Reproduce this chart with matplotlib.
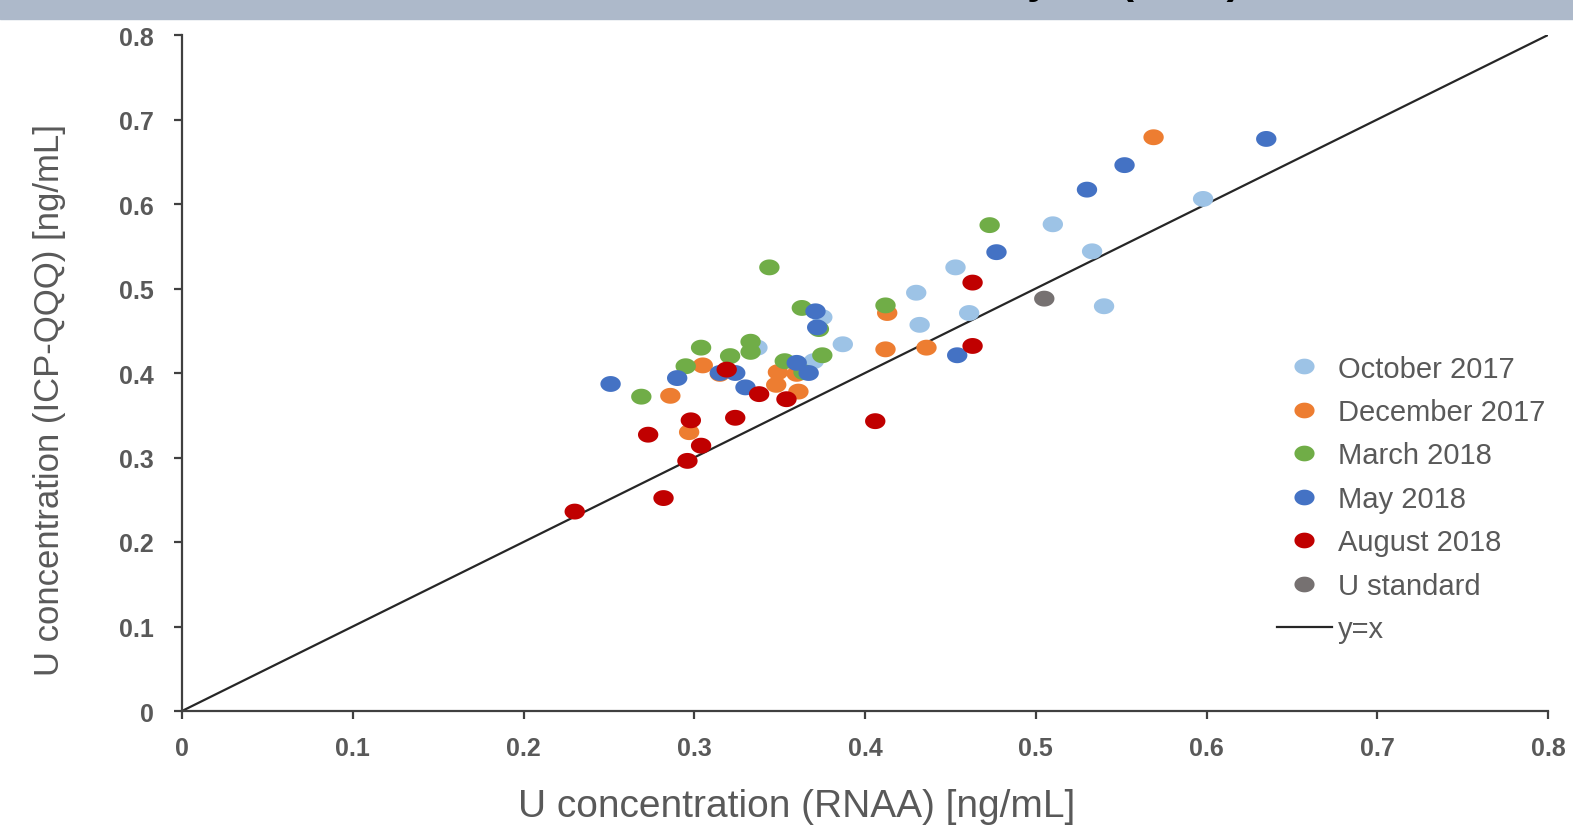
import numpy as np
import matplotlib
matplotlib.use("Agg")
import matplotlib.pyplot as plt
from matplotlib.path import Path
from matplotlib.lines import Line2D

# ── data (RNAA x, ICP-QQQ y) ──────────────────────────────────────────────────
oct17_x = [0.598, 0.510, 0.533, 0.540, 0.453, 0.430, 0.432, 0.461, 0.387, 0.375, 0.370, 0.337]
oct17_y = [0.606, 0.576, 0.544, 0.479, 0.525, 0.495, 0.457, 0.471, 0.434, 0.466, 0.414, 0.430]

dec17_x = [0.569, 0.413, 0.412, 0.436, 0.305, 0.286, 0.297, 0.315, 0.349, 0.348, 0.361, 0.360]
dec17_y = [0.679, 0.471, 0.428, 0.430, 0.409, 0.373, 0.330, 0.399, 0.401, 0.386, 0.378, 0.399]

mar18_x = [0.344, 0.473, 0.412, 0.363, 0.373, 0.375, 0.333, 0.333, 0.304, 0.321, 0.295, 0.269, 0.353, 0.364]
mar18_y = [0.525, 0.575, 0.480, 0.477, 0.452, 0.421, 0.437, 0.425, 0.430, 0.420, 0.408, 0.372, 0.414, 0.401]

may18_x = [0.635, 0.552, 0.530, 0.477, 0.454, 0.371, 0.372, 0.360, 0.367, 0.251, 0.290, 0.315, 0.324, 0.330]
may18_y = [0.677, 0.646, 0.617, 0.543, 0.421, 0.473, 0.454, 0.412, 0.400, 0.387, 0.394, 0.400, 0.400, 0.383]

aug18_x = [0.463, 0.463, 0.406, 0.319, 0.338, 0.354, 0.324, 0.298, 0.273, 0.304, 0.296, 0.282, 0.230]
aug18_y = [0.507, 0.432, 0.343, 0.404, 0.375, 0.369, 0.347, 0.344, 0.327, 0.314, 0.296, 0.252, 0.236]

std_x = [0.505]
std_y = [0.488]

SERIES = [
    ("October 2017",  oct17_x, oct17_y, "#9DC3E6"),
    ("December 2017", dec17_x, dec17_y, "#ED7D31"),
    ("March 2018",    mar18_x, mar18_y, "#70AD47"),
    ("May 2018",      may18_x, may18_y, "#4472C4"),
    ("August 2018",   aug18_x, aug18_y, "#C00000"),
    ("U standard",    std_x,   std_y,   "#767171"),
]
TICKS = [0, 0.1, 0.2, 0.3, 0.4, 0.5, 0.6, 0.7, 0.8]
TICK_LABELS = ["0", "0.1", "0.2", "0.3", "0.4", "0.5", "0.6", "0.7", "0.8"]
# ──────────────────────────────────────────────────────────────────────────────

plt.rcParams["font.family"] = ["Liberation Sans", "DejaVu Sans"]
GREY = "#595959"

# slightly wide ellipse, the original slide is stretched sideways
t = np.linspace(0, 2 * np.pi, 64)
ELLIPSE = Path(np.column_stack([np.cos(t), 0.78 * np.sin(t)]), closed=True)

fig = plt.figure(figsize=(15.73, 8.28), dpi=100)

# slide header band, title mostly cut off above the image
fig.patches.append(plt.Rectangle((0, 1 - 20 / 828), 1, 20 / 828, transform=fig.transFigure,
                                 color="#ADB9CA", zorder=0))
fig.text(1240 / 1573, 1 + 7 / 828, "Results of the uranium analysis (2018)", ha="right",
         va="baseline", fontsize=30, fontweight="bold", color="black")

ax = fig.add_axes([182 / 1573, 1 - 712 / 828, 1366 / 1573, 676 / 828])

ax.plot([0, 0.8], [0, 0.8], color="#262626", lw=1.6, zorder=1)
for name, xs, ys, col in SERIES:
    ax.scatter(xs, ys, marker=ELLIPSE, s=215, color=col, edgecolors="none", zorder=3)

ax.set_xlim(0, 0.8)
ax.set_ylim(0, 0.8)
ax.set_xticks(TICKS)
ax.set_xticklabels(TICK_LABELS)
ax.set_yticks(TICKS)
ax.set_yticklabels(TICK_LABELS)
for s in ("top", "right"):
    ax.spines[s].set_visible(False)
for s in ("left", "bottom"):
    ax.spines[s].set_linewidth(1.6)
    ax.spines[s].set_color("#404040")
ax.tick_params(length=6, width=1.6, color="#404040", labelsize=18, labelcolor=GREY)
ax.tick_params(axis="x", pad=12)
ax.tick_params(axis="y", pad=14)
for lab in ax.get_xticklabels() + ax.get_yticklabels():
    lab.set_fontweight("bold")

ax.set_xlabel("U concentration (RNAA) [ng/mL]", fontsize=28, color=GREY)
ax.set_ylabel("U concentration (ICP-QQQ) [ng/mL]", fontsize=25, color=GREY)
ax.xaxis.set_label_coords(0.45, -95 / 676, transform=ax.transAxes)
ax.yaxis.set_label_coords(-132 / 1366, 0.4615, transform=ax.transAxes)
ax.xaxis.label.set_va("center")
ax.yaxis.label.set_va("center")

handles = [Line2D([], [], ls="none", marker=ELLIPSE, ms=14.5, color=c, mec="none")
           for _, _, _, c in SERIES]
handles.append(Line2D([], [], color="#262626", lw=1.6))
labels = [n for n, _, _, _ in SERIES] + ["y=x"]
leg = ax.legend(handles, labels, loc="upper left", bbox_to_anchor=(1262 / 1573, 1 - 341 / 828),
                bbox_transform=fig.transFigure, frameon=False, fontsize=21,
                handlelength=1.9, handletextpad=0.2, labelspacing=0.53, borderpad=0)
for txt in leg.get_texts():
    txt.set_color(GREY)

fig.savefig("out.png", dpi=100)
